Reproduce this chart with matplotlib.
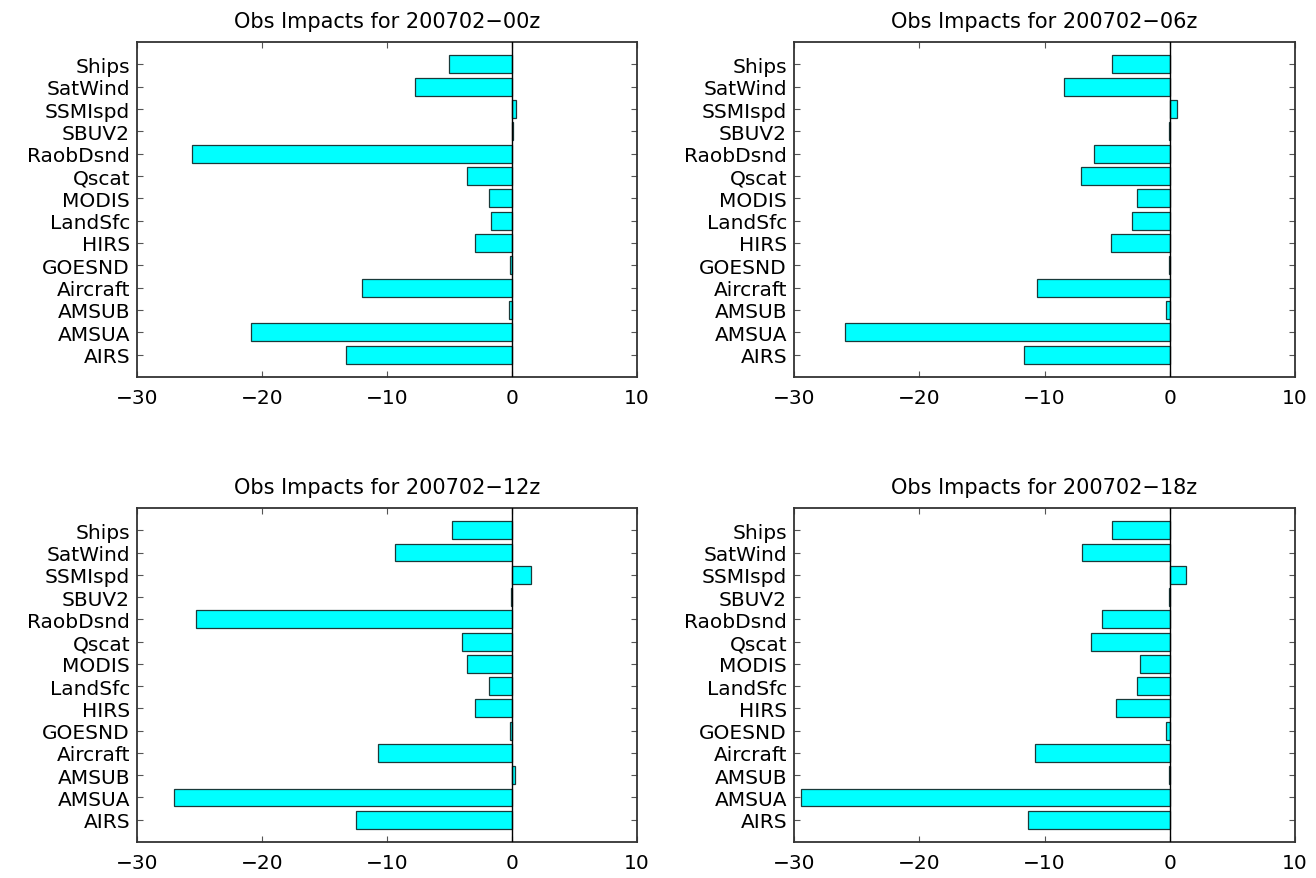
import matplotlib
matplotlib.use("Agg")
import matplotlib.pyplot as plt
import numpy as np

plt.rcParams['font.family'] = ['DejaVu Sans']

categories = ["AIRS", "AMSUA", "AMSUB", "Aircraft", "GOESND", "HIRS", "LandSfc",
              "MODIS", "Qscat", "RaobDsnd", "SBUV2", "SSMIspd", "SatWind", "Ships"]

impact_00z = [-13.25, -20.85, -0.27, -11.97, -0.15, -2.99, -1.65,
              -1.87, -3.6, -25.6, 0.08, 0.3, -7.79, -5.07]
impact_06z = [-11.65, -25.92, -0.27, -10.59, -0.05, -4.72, -2.99,
              -2.59, -7.12, -6.05, -0.05, 0.61, -8.45, -4.59]
impact_12z = [-12.45, -27.07, 0.27, -10.72, -0.19, -2.93, -1.84,
              -3.57, -4.0, -25.25, -0.05, 1.55, -9.39, -4.77]
impact_18z = [-11.33, -29.44, -0.05, -10.72, -0.32, -4.27, -2.64,
              -2.4, -6.32, -5.39, -0.05, 1.28, -7.04, -4.59]

titles = ["Obs Impacts for 200702\u221200z", "Obs Impacts for 200702\u221206z",
          "Obs Impacts for 200702\u221212z", "Obs Impacts for 200702\u221218z"]
series = [impact_00z, impact_06z, impact_12z, impact_18z]
xticks = [-30, -20, -10, 0, 10]

fig = plt.figure(figsize=(13.16, 8.79), dpi=100)
W, H = 1316, 879
boxes = [(137, 43, 637, 378), (794, 43, 1295, 378),
         (137, 509, 637, 843), (794, 509, 1295, 843)]

for (x0, y0, x1, y1), vals, title in zip(boxes, series, titles):
    ax = fig.add_axes([x0 / W, 1 - y1 / H, (x1 - x0) / W, (y1 - y0) / H])
    pos = np.arange(1, len(categories) + 1)
    ax.barh(pos, vals, height=0.8, color="#00ffff", edgecolor="#1a3a3a", linewidth=0.9, zorder=2)
    ax.axvline(0, color="black", linewidth=1.0, zorder=3)
    ax.set_xlim(-30, 10)
    ax.set_ylim(0, 15)
    ax.set_yticks(pos)
    ax.set_yticklabels(categories, fontsize=14.5)
    ax.set_xticks(xticks)
    ax.set_xticklabels([str(t).replace('-', '\u2212') for t in xticks], fontsize=14.5)
    ax.tick_params(direction="in", length=4, width=0.8, top=True, right=True,
                   color="#555555", pad=5)
    ax.tick_params(axis='x', pad=8)
    for sp in ax.spines.values():
        sp.set_linewidth(1.3)
        sp.set_color("#333333")
    ax.set_title(title, fontsize=15, pad=11)

fig.savefig("out.png", dpi=100)
